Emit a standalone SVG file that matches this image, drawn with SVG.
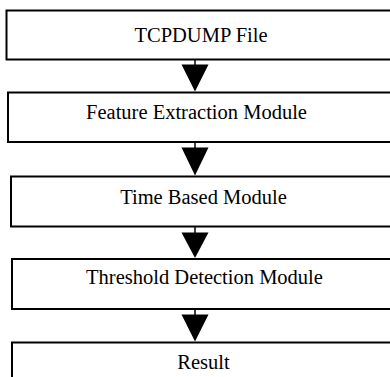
<svg xmlns="http://www.w3.org/2000/svg" width="390" height="377" viewBox="0 0 390 377">
<style>
.box{fill:#fff;stroke:#000;stroke-width:2}
.lbl{font-family:"Liberation Serif","Times New Roman",serif;font-size:20.5px;fill:#000;text-anchor:middle}
.stem{stroke:#000;stroke-width:1.5}
.head{fill:#000}
</style>
<rect width="390" height="377" fill="#fff"/>
<g id="connectors">
<line class="stem" x1="195" y1="60" x2="195" y2="65"/>
<polygon class="head" points="181.5,64.5 208.5,64.5 195,91.5"/>
<line class="stem" x1="195" y1="142" x2="195" y2="148"/>
<polygon class="head" points="181.5,147.5 208.5,147.5 195,175.5"/>
<line class="stem" x1="195" y1="226.5" x2="195" y2="233"/>
<polygon class="head" points="181.5,232.5 208.5,232.5 195,258"/>
<line class="stem" x1="195" y1="309" x2="195" y2="315"/>
<polygon class="head" points="181.5,314.5 208.5,314.5 195,341.5"/>
</g>
<g id="n1"><rect class="box" x="6.5" y="10.5" width="400" height="49"/><text class="lbl" x="201" y="41.5">TCPDUMP File</text></g>
<g id="n2"><rect class="box" x="8" y="92.5" width="400" height="49.5"/><text class="lbl" x="196.5" y="119">Feature Extraction Module</text></g>
<g id="n3"><rect class="box" x="11" y="176.5" width="400" height="50"/><text class="lbl" x="203.5" y="203.5">Time Based Module</text></g>
<g id="n4"><rect class="box" x="12" y="259" width="400" height="50"/><text class="lbl" x="204.5" y="283.5">Threshold Detection Module</text></g>
<g id="n5"><rect class="box" x="12" y="342.5" width="400" height="50"/><text class="lbl" x="203.5" y="368.5">Result</text></g>
</svg>
